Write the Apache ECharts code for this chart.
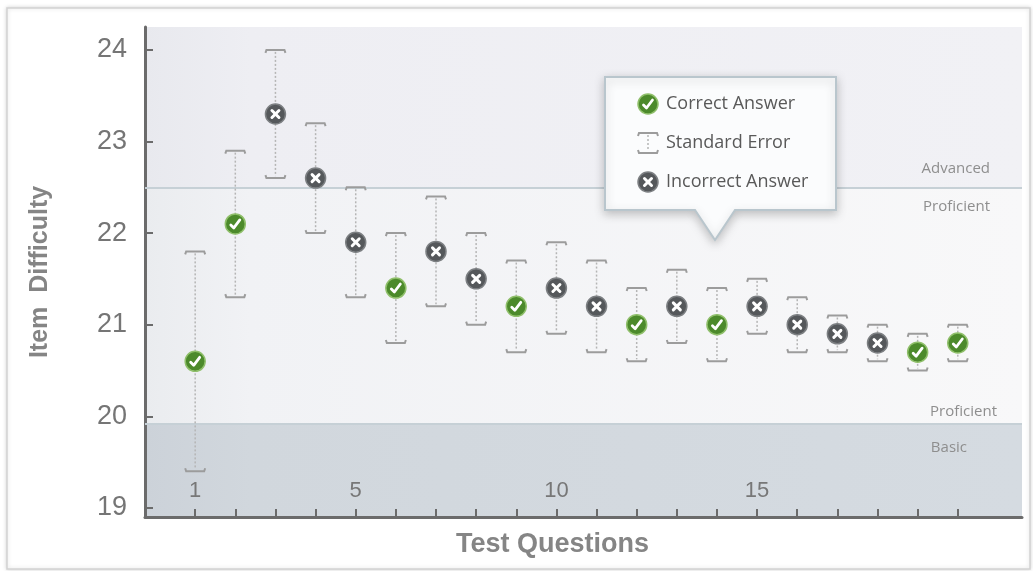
<!DOCTYPE html>
<html>
<head>
<meta charset="utf-8">
<script src="https://cdn.jsdelivr.net/npm/echarts@6/dist/echarts.min.js"></script>
<style>
html,body{margin:0;padding:0;background:#fff;}
#main{width:1033px;height:571px;}
</style>
</head>
<body>
<div id="main"></div>
<script>
// data
var questions = [1,2,3,4,5,6,7,8,9,10,11,12,13,14,15,16,17,18,19,20];
var difficulty = [20.6,22.1,23.3,22.6,21.9,21.4,21.8,21.5,21.2,21.4,21.2,21.0,21.2,21.0,21.2,21.0,20.9,20.8,20.7,20.8];
var errLow  = [19.4,21.3,22.6,22.0,21.3,20.8,21.2,21.0,20.7,20.9,20.7,20.6,20.8,20.6,20.9,20.7,20.7,20.6,20.5,20.6];
var errHigh = [21.8,22.9,24.0,23.2,22.5,22.0,22.4,22.0,21.7,21.9,21.7,21.4,21.6,21.4,21.5,21.3,21.1,21.0,20.9,21.0];
var correct = [1,1,0,0,0,1,0,0,1,0,0,1,0,1,0,0,0,0,1,1];

var yTicks = [19,20,21,22,23,24];
var xLabels = [1,5,10,15];
var levelCuts = [18.9, 19.92, 22.5, 24.25]; // basic / proficient / advanced

var grey = '#6b6b6b';
var labelFont = '"Open Sans", sans-serif';

//画标记（对/错）
function markerShapes(cx, cy, ok) {
	var r = 10;
	var list = [{
		type: 'circle',
		shape: {cx: cx, cy: cy, r: r},
		style: {fill: ok ? '#4c8a2b' : '#55585b', stroke: ok ? '#8fbf6a' : '#7c7f82', lineWidth: 1.5}
	}];
	if (ok) {
		list.push({
			type: 'polyline',
			shape: {points: [[cx - 4.5, cy + 1], [cx - 1.5, cy + 4], [cx + 4.5, cy - 4]]},
			style: {stroke: '#fff', lineWidth: 2.8, fill: null, lineCap: 'round', lineJoin: 'round'}
		});
	} else {
		list.push({type: 'line', shape: {x1: cx - 3.5, y1: cy - 3.5, x2: cx + 3.5, y2: cy + 3.5},
			style: {stroke: '#fff', lineWidth: 3, lineCap: 'round'}});
		list.push({type: 'line', shape: {x1: cx - 3.5, y1: cy + 3.5, x2: cx + 3.5, y2: cy - 3.5},
			style: {stroke: '#fff', lineWidth: 3, lineCap: 'round'}});
	}
	return list;
}

//画误差线
function errorShapes(x, yTop, yBot) {
	var w = 10, h = 3;
	return [
		{type: 'line', shape: {x1: x, y1: yTop + 2, x2: x, y2: yBot - 2},
			style: {stroke: '#b5b5b5', lineWidth: 1.5, lineDash: [2, 2]}},
		{type: 'polyline', shape: {points: [[x - w, yTop + h], [x - w + 1, yTop], [x + w - 1, yTop], [x + w, yTop + h]]},
			style: {stroke: '#9c9c9c', lineWidth: 2, fill: null}},
		{type: 'polyline', shape: {points: [[x - w, yBot - h], [x - w + 1, yBot], [x + w - 1, yBot], [x + w, yBot - h]]},
			style: {stroke: '#9c9c9c', lineWidth: 2, fill: null}}
	];
}

var errData = [], markData = [];
for (var i = 0; i < questions.length; i++) {
	errData.push([questions[i], errLow[i], errHigh[i]]);
	markData.push([questions[i], difficulty[i], correct[i]]);
}

function grad(a, b, c) {
	return {type: 'linear', x: 0, y: 0, x2: 1, y2: 0,
		colorStops: [{offset: 0, color: a}, {offset: 0.12, color: b}, {offset: 1, color: c}]};
}

function bandLine(y, text, pos, dist) {
	return {
		yAxis: y,
		lineStyle: {color: '#c6d0d6', width: 2, type: 'solid'},
		label: {show: true, formatter: text, position: pos, distance: dist,
			color: '#8e8e8e', fontSize: 15, fontFamily: labelFont}
	};
}

// legend callout
var lx = 648, ly = [104, 143, 182], tx = 666;
var legendChildren = [{
	type: 'polygon',
	shape: {points: [[605, 77], [836, 77], [836, 210], [735, 210], [715, 240], [695, 210], [605, 210]]},
	style: {fill: '#fbfcfd', stroke: '#b9c6cd', lineWidth: 2, shadowBlur: 10, shadowColor: 'rgba(0,0,0,0.22)', shadowOffsetY: 3}
}];
legendChildren = legendChildren.concat(markerShapes(lx, ly[0], true));
legendChildren = legendChildren.concat(errorShapes(lx, ly[1] - 10, ly[1] + 10));
legendChildren = legendChildren.concat(markerShapes(lx, ly[2], false));
var legendText = ['Correct Answer', 'Standard Error', 'Incorrect Answer'];
for (var k = 0; k < 3; k++) {
	legendChildren.push({
		type: 'text', x: tx, y: ly[k],
		style: {text: legendText[k], fill: '#595959', font: '18px "Open Sans", sans-serif', verticalAlign: 'middle'}
	});
}
for (var m = 0; m < legendChildren.length; m++) {
	legendChildren[m].z = 100 + m;
}

var myChart = echarts.init(document.getElementById('main'), null, {renderer: 'canvas'});

var option = {
	animation: false,
	backgroundColor: '#fff',
	grid: {left: 145, right: 11, top: 27, bottom: 54},
	xAxis: {
		type: 'value', min: -0.25, max: 21.6, z: 4,
		name: 'Test Questions', nameLocation: 'middle', nameGap: 14,
		nameTextStyle: {fontSize: 27, fontWeight: 'bold', color: '#858585', fontFamily: 'Liberation Sans, Arial', padding: [0, 62, 0, 0]},
		axisLine: {onZero: false, lineStyle: {color: grey, width: 3}},
		axisTick: {inside: true, length: 8, customValues: questions, lineStyle: {color: grey, width: 2}},
		axisLabel: {inside: true, customValues: xLabels, margin: 15, fontSize: 22, color: '#777', fontFamily: 'Liberation Sans, Arial'},
		splitLine: {show: false}
	},
	yAxis: {
		type: 'value', min: 18.9, max: 24.25, z: 4,
		name: 'Item  Difficulty', nameLocation: 'middle', nameGap: 92, nameRotate: 90,
		nameTextStyle: {fontSize: 25, fontWeight: 'bold', color: '#858585', fontFamily: 'Liberation Sans, Arial'},
		axisLine: {show: true, onZero: false, lineStyle: {color: grey, width: 3}},
		axisTick: {show: true, inside: true, length: 8, customValues: yTicks, lineStyle: {color: grey, width: 2}},
		axisLabel: {customValues: yTicks, margin: 18, fontSize: 27, color: '#757575', fontFamily: 'Liberation Sans, Arial'},
		splitLine: {show: false}
	},
	graphic: [
		{type: 'rect', z: -10, shape: {x: 7, y: 8, width: 1023, height: 561},
			style: {fill: '#fff', stroke: '#d2d2d2', lineWidth: 1.5, shadowBlur: 4, shadowColor: 'rgba(0,0,0,0.15)'}},
		{type: 'group', z: 100, children: legendChildren}
	],
	series: [
		{
			type: 'line', data: [], silent: true, z: 1,
			markArea: {
				silent: true,
				data: [
					[{yAxis: levelCuts[0], itemStyle: {color: grad('#ccd2d9', '#d1d7dd', '#d5dbe1')}}, {yAxis: levelCuts[1]}],
					[{yAxis: levelCuts[1], itemStyle: {color: grad('#eaecef', '#f1f2f5', '#f8f8f9')}}, {yAxis: levelCuts[2]}],
					[{yAxis: levelCuts[2], itemStyle: {color: grad('#e8e9ee', '#eeeef3', '#f1f1f5')}}, {yAxis: levelCuts[3]}]
				]
			},
			markLine: {
				silent: true, symbol: 'none',
				data: [
					bandLine(levelCuts[2], 'Advanced', 'insideEndTop', [32, 11]),
					bandLine(levelCuts[2], 'Proficient', 'insideEndBottom', [32, 12]),
					bandLine(levelCuts[1], 'Proficient', 'insideEndTop', [25, 4]),
					bandLine(levelCuts[1], 'Basic', 'insideEndBottom', [55, 17])
				]
			}
		},
		{
			type: 'custom', z: 5, data: errData,
			encode: {x: 0, y: [1, 2]},
			renderItem: function (params, api) {
				var t = api.coord([api.value(0), api.value(2)]);
				var b = api.coord([api.value(0), api.value(1)]);
				return {type: 'group', children: errorShapes(t[0], t[1], b[1])};
			}
		},
		{
			type: 'custom', z: 10, data: markData,
			encode: {x: 0, y: 1},
			renderItem: function (params, api) {
				var p = api.coord([api.value(0), api.value(1)]);
				return {type: 'group', children: markerShapes(p[0], p[1], api.value(2) === 1)};
			}
		}
	]
};

myChart.setOption(option);
</script>
</body>
</html>
